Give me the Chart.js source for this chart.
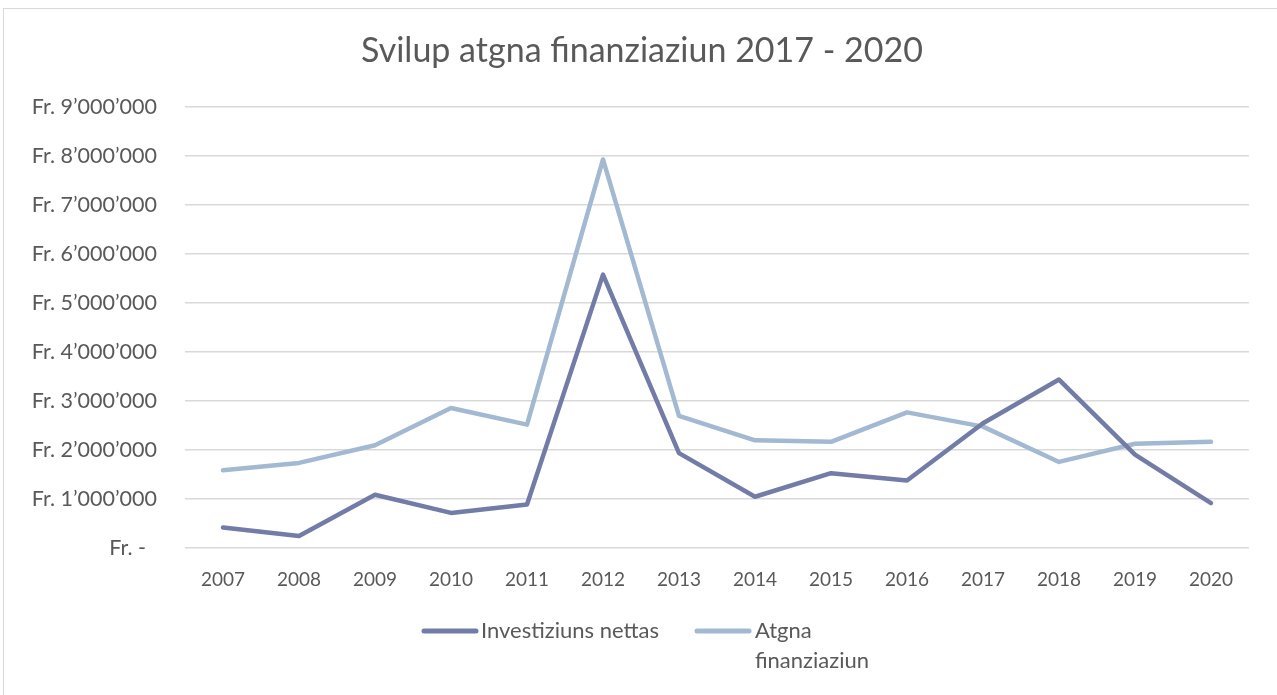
<!DOCTYPE html>
<html>
<head>
<meta charset="utf-8">
<script src="https://cdn.jsdelivr.net/npm/chart.js@4/dist/chart.umd.min.js"></script>
<style>
  html, body { margin: 0; padding: 0; background: #fff; }
  #frame { position: absolute; left: 3px; top: 8px; width: 1290px; height: 700px; border: 1px solid #d9d9d9; box-sizing: border-box; }
  #wrap { position: absolute; left: 0; top: 0; width: 1277px; height: 695px; }
</style>
</head>
<body>
<div id="frame"></div>
<div id="wrap"><canvas id="c" width="1277" height="695"></canvas></div>
<script>
const titleText = "Svilup atgna finanziaziun 2017 - 2020";
const years = ["2007","2008","2009","2010","2011","2012","2013","2014","2015","2016","2017","2018","2019","2020"];
const investiziunsNettas = [420000, 250000, 1090000, 720000, 890000, 5580000, 1940000, 1050000, 1530000, 1380000, 2550000, 3440000, 1910000, 920000];
const atgnaFinanziaziun = [1590000, 1740000, 2100000, 2860000, 2520000, 7930000, 2700000, 2200000, 2170000, 2770000, 2480000, 1760000, 2130000, 2170000];
const seriesNames = ["Investiziuns nettas", ["Atgna", "finanziaziun"]];
const seriesColors = ["#727ca6", "#a2b9d1"];

const FONT = "Lato, 'Open Sans', sans-serif";
const TEXT = "#595959";

function fmt(v) {
  if (v === 0) return "Fr. -  ";
  const s = String(Math.round(v)).replace(/\B(?=(\d{3})+(?!\d))/g, "\u2019");
  return "Fr. " + s;
}

const titleAndLegend = {
  id: "titleAndLegend",
  afterDraw(chart) {
    const ctx = chart.ctx;
    ctx.save();
    // title, centred on the chart frame
    ctx.font = "34px " + FONT;
    ctx.fillStyle = TEXT;
    ctx.textAlign = "center";
    ctx.textBaseline = "middle";
    ctx.fillText(titleText, 642, 51);
    // legend
    ctx.textAlign = "left";
    ctx.font = "22px " + FONT;
    const items = [
      { x0: 424, x1: 476, y: 631, tx: 481, lines: [seriesNames[0]], color: seriesColors[0] },
      { x0: 697, x1: 749, y: 631, tx: 755, lines: seriesNames[1], color: seriesColors[1] }
    ];
    items.forEach(it => {
      ctx.strokeStyle = it.color;
      ctx.lineWidth = 5;
      ctx.lineCap = "round";
      ctx.beginPath();
      ctx.moveTo(it.x0, it.y);
      ctx.lineTo(it.x1, it.y);
      ctx.stroke();
      it.lines.forEach((l, i) => ctx.fillText(l, it.tx, it.y + i * 30));
    });
    ctx.restore();
  }
};

new Chart(document.getElementById("c"), {
  type: "line",
  data: {
    labels: years,
    datasets: [
      { label: "Investiziuns nettas", data: investiziunsNettas, borderColor: seriesColors[0], backgroundColor: seriesColors[0] },
      { label: "Atgna finanziaziun", data: atgnaFinanziaziun, borderColor: seriesColors[1], backgroundColor: seriesColors[1] }
    ]
  },
  options: {
    responsive: false,
    animation: false,
    layout: { padding: { left: 0, right: 28, top: 107, bottom: 84 } },
    elements: {
      line: { borderWidth: 4.5, tension: 0, borderCapStyle: "round", borderJoinStyle: "round" },
      point: { radius: 0, hoverRadius: 0 }
    },
    plugins: {
      legend: { display: false },
      tooltip: { enabled: false },
      title: { display: false }
    },
    scales: {
      x: {
        offset: true,
        grid: { display: false, drawTicks: false, offset: true },
        border: { display: false },
        ticks: { color: TEXT, font: { family: FONT, size: 19, lineHeight: 1.2 }, padding: 20, maxRotation: 0, autoSkip: false }
      },
      y: {
        min: 0, max: 9000000,
        afterFit(scale) { scale.width = 185; },
        grid: { color: "#d9d9d9", lineWidth: 1.5, drawTicks: false },
        border: { display: false },
        ticks: { stepSize: 1000000, color: TEXT, font: { family: FONT, size: 21.5 }, padding: 28, callback: v => fmt(v) }
      }
    }
  },
  plugins: [titleAndLegend]
});
</script>
</body>
</html>
